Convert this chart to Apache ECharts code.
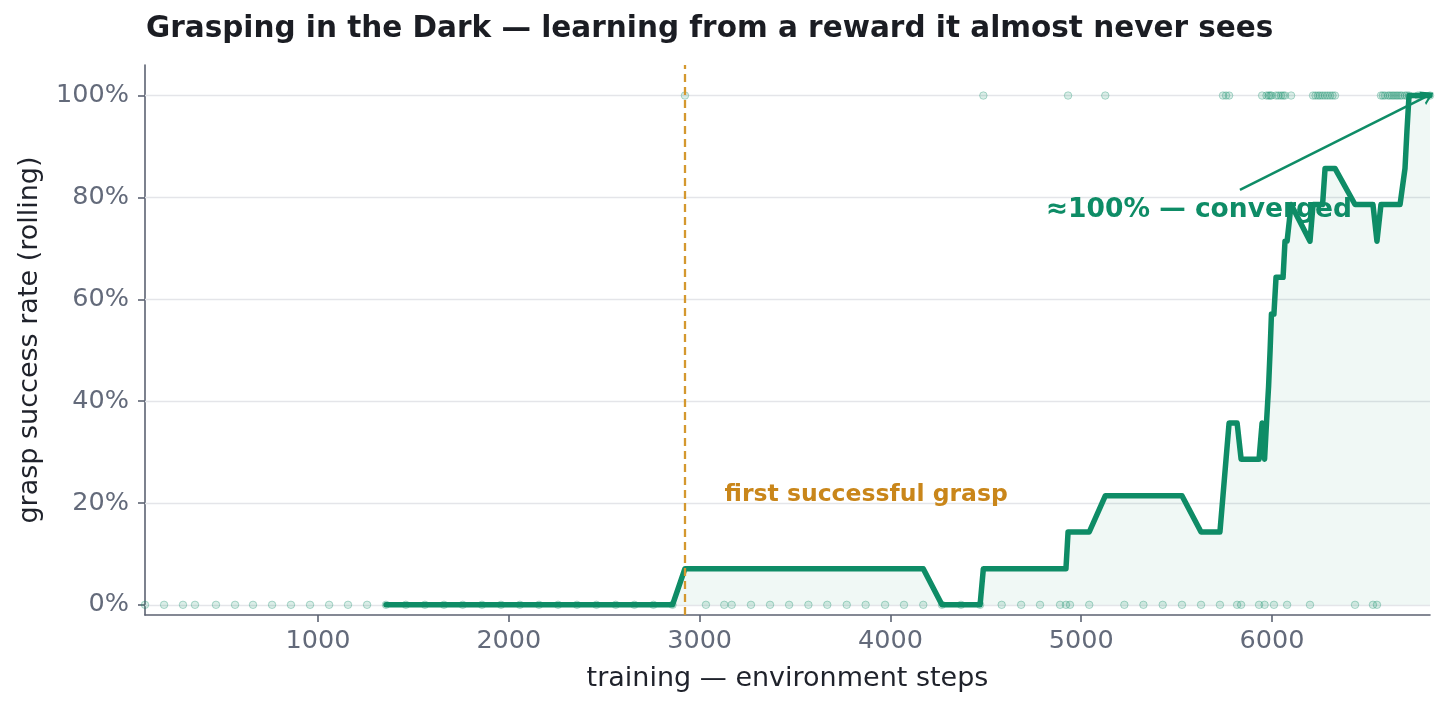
<!DOCTYPE html>
<html>
<head>
<meta charset="utf-8">
<script src="https://cdn.jsdelivr.net/npm/echarts@6/dist/echarts.min.js"></script>
<style>html,body{margin:0;padding:0;background:#fff}#c{width:1446px;height:710px}</style>
</head>
<body>
<div id="c"></div>
<script>
// environment step at the end of each episode
const episodeSteps = [
  93, 193, 292, 355, 465, 565, 659, 759, 858, 958, 1058, 1157, 1257, 1356,
  1460, 1560, 1660, 1758, 1859, 1959, 2058, 2158, 2258, 2357, 2459, 2560, 2658, 2758, 2858,
  2923,
  3033, 3129, 3168, 3269, 3369, 3469, 3570, 3669, 3771, 3870, 3972, 4071, 4172, 4270, 4370, 4470,
  4487,
  4583, 4685, 4784, 4889, 4920,
  4931,
  4941, 5042,
  5126,
  5226, 5326, 5427, 5528, 5628, 5727,
  5743, 5759, 5775,
  5817, 5838,
  5932, 5948, 5961, 5971, 5982, 5990, 5997, 6010, 6021, 6034, 6047, 6058, 6068, 6079, 6100, 6199,
  6215, 6228, 6241, 6252, 6265, 6278, 6291, 6304, 6317, 6330,
  6435, 6529, 6550,
  6571, 6581, 6592, 6608, 6618, 6629, 6639, 6650, 6660, 6671, 6681, 6697, 6707, 6718, 6765, 6828
];
// 1 = grasp succeeded in that episode, 0 = failed
const episodeSuccess = [
  0,0,0,0,0,0,0,0,0,0,0,0,0,0,
  0,0,0,0,0,0,0,0,0,0,0,0,0,0,0,
  1,
  0,0,0,0,0,0,0,0,0,0,0,0,0,0,0,0,
  1,
  0,0,0,0,0,
  1,
  0,0,
  1,
  0,0,0,0,0,0,
  1,1,1,
  0,0,
  0,1,0,1,1,1,1,0,1,1,1,1,1,0,1,0,
  1,1,1,1,1,1,1,1,1,1,
  0,0,0,
  1,1,1,1,1,1,1,1,1,1,1,1,1,1,1,1
];
// rolling success rate (%) over the last 14 episodes, from the 14th episode on
const rollingRate = [
  0,0,0,0,0,0,0,0,0,0,0,0,0,0,0,0,
  7.1,7.1,7.1,7.1,7.1,7.1,7.1,7.1,7.1,7.1,7.1,7.1,7.1,7.1,
  0,0,0,
  7.1,7.1,7.1,7.1,7.1,7.1,
  14.3,14.3,14.3,
  21.4,21.4,21.4,21.4,21.4,
  14.3,14.3,
  21.4,28.6,35.7,35.7,28.6,
  28.6,35.7,28.6,35.7,42.9,50,57.1,57.1,64.3,64.3,64.3,64.3,71.4,71.4,78.6,71.4,
  78.6,78.6,78.6,78.6,78.6,
  85.7,85.7,85.7,85.7,85.7,
  78.6,78.6,71.4,
  78.6,78.6,78.6,78.6,78.6,78.6,78.6,78.6,78.6,78.6,78.6,
  85.7,92.9,100,100,100
];
const rollingWindow = 14;
const xTicks = [1000, 2000, 3000, 4000, 5000, 6000];
const yTicks = [0, 20, 40, 60, 80, 100];
const firstSuccessStep = 2922;
const firstSuccessLabel = { text: 'first successful grasp', at: [3128, 21.6] };
const convergedLabel = { text: '≈100% — converged', at: [4812, 77.6] };
const arrowFrom = [5832, 81.5];
const arrowTo = [6818, 100];

const GREEN = '#0e8c66';
const ORANGE = '#c9861a';
const FONT = 'DejaVu Sans';

const dots = episodeSteps.map((s, i) => [s, episodeSuccess[i] * 100]);
const lineData = rollingRate.map((r, i) => [episodeSteps[i + rollingWindow - 1], r]);

const chart = echarts.init(document.getElementById('c'), null, { renderer: 'canvas' });
chart.setOption({
  animation: false,
  backgroundColor: '#ffffff',
  title: {
    text: 'Grasping in the Dark — learning from a reward it almost never sees',
    left: 141, top: 9,
    textStyle: { fontFamily: FONT, fontSize: 29.5, fontWeight: 'bold', color: '#1b1d23' }
  },
  grid: { left: 145, right: 16, top: 65, bottom: 95, containLabel: false },
  xAxis: {
    type: 'value',
    min: episodeSteps[0],
    max: episodeSteps[episodeSteps.length - 1],
    name: 'training — environment steps',
    nameLocation: 'middle', nameGap: 50,
    nameTextStyle: { fontFamily: FONT, fontSize: 27, color: '#1f222b' },
    axisLine: { show: true, onZero: false, lineStyle: { color: '#5c6272', width: 1.6 } },
    axisTick: { show: true, length: 7, customValues: xTicks, lineStyle: { color: '#5c6272', width: 1.6 } },
    axisLabel: { customValues: xTicks, fontFamily: FONT, fontSize: 25.5, color: '#636a7a', margin: 13,
                 formatter: v => String(v) },
    splitLine: { show: false }
  },
  yAxis: {
    type: 'value',
    min: -2, max: 106,
    name: 'grasp success rate (rolling)',
    nameLocation: 'middle', nameGap: 102,
    nameTextStyle: { fontFamily: FONT, fontSize: 27, color: '#1f222b' },
    axisLine: { show: true, onZero: false, lineStyle: { color: '#5c6272', width: 1.6 } },
    axisTick: { show: true, length: 7, customValues: yTicks, lineStyle: { color: '#5c6272', width: 1.6 } },
    axisLabel: { customValues: yTicks, fontFamily: FONT, fontSize: 25.5, color: '#636a7a', margin: 16,
                 formatter: v => v + '%' },
    splitLine: { show: false }
  },
  series: [
    {
      name: 'episodes', type: 'scatter', z: 2,
      data: dots,
      symbol: 'circle', symbolSize: 7.5,
      itemStyle: { color: 'rgba(14,140,102,0.15)', borderColor: 'rgba(14,140,102,0.3)', borderWidth: 1, opacity: 1 },
      silent: true,
      markLine: {
        z: 1, silent: true, symbol: 'none', label: { show: false },
        lineStyle: { color: '#e4e5e9', width: 1.4, type: 'solid' },
        data: yTicks.map(v => ({ yAxis: v }))
      }
    },
    {
      name: 'rolling', type: 'line', z: 3,
      data: lineData,
      showSymbol: false, symbol: 'none',
      lineStyle: { color: GREEN, width: 5.5, cap: 'round', join: 'round' },
      areaStyle: { color: 'rgba(14,140,102,0.09)' },
      markLine: {
        z: 4, silent: true, symbol: 'none', label: { show: false },
        lineStyle: { color: '#d4982e', width: 2.3, type: [8, 5] },
        data: [{ xAxis: firstSuccessStep }]
      }
    },
    {
      name: 'arrow', type: 'line', z: 5, data: [], silent: true,
      markLine: {
        z: 5, silent: true,
        symbol: ['none', 'path://M0,12 L6,0 L12,12 L10,12 L6,4 L2,12 Z'],
        symbolSize: [15, 12],
        label: { show: false },
        lineStyle: { color: GREEN, width: 2.5, type: 'solid', opacity: 1 },
        data: [[{ coord: arrowFrom }, { coord: arrowTo }]]
      }
    },
    {
      name: 'labels', type: 'scatter', z: 6, silent: true,
      symbolSize: 1, itemStyle: { color: 'rgba(0,0,0,0)', opacity: 1 },
      data: [
        { value: firstSuccessLabel.at, label: { show: true, position: 'right', distance: 0,
          formatter: firstSuccessLabel.text, fontFamily: FONT, fontSize: 23.5, fontWeight: 'bold', color: ORANGE } },
        { value: convergedLabel.at, label: { show: true, position: 'right', distance: 0,
          formatter: convergedLabel.text, fontFamily: FONT, fontSize: 26.5, fontWeight: 'bold', color: GREEN } }
      ]
    }
  ]
});
</script>
</body>
</html>
